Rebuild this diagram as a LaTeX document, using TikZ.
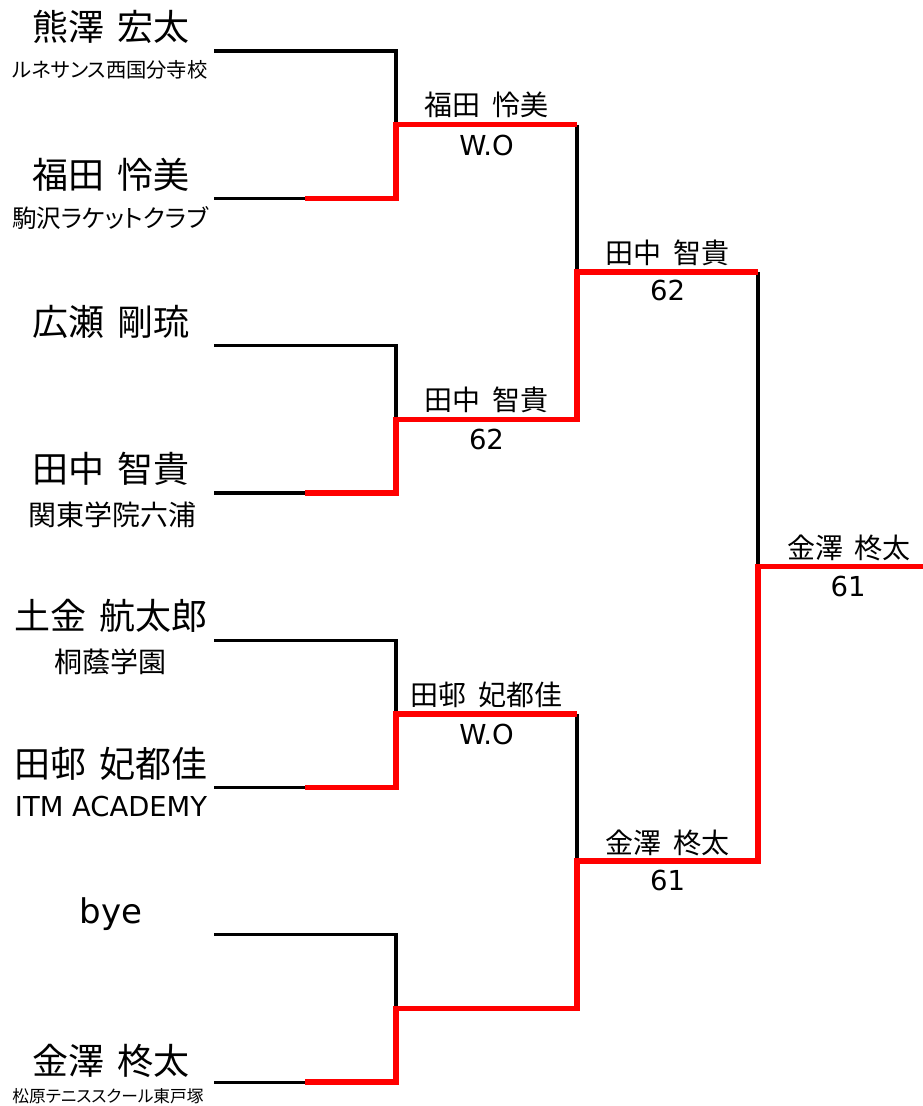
\documentclass[tikz,border=0pt]{standalone}
\usepackage{fontspec}
\setmainfont{Noto Sans CJK JP}
\newfontfamily\pf[RawFeature=+palt]{Noto Sans CJK JP}
\newfontfamily\lat{DejaVu Sans}
\newcommand{\gp}{\hspace{0.36em}}
\newcommand{\gq}{\hspace{0.4em}}
\tikzset{
  blk/.style={line width=3.2pt, draw=black},
  win/.style={line width=5.5pt, draw=red},
  txt/.style={inner sep=0pt, outer sep=0pt, text=black},
  pname/.style={txt, font=\fontsize{36}{42}\selectfont},
  rlbl/.style={txt, font=\fontsize{28}{32}\selectfont},
  rscore/.style={txt, font=\lat\fontsize{27.5}{32}\selectfont},
}
\begin{document}
\begin{tikzpicture}[x=1pt,y=-1pt]
\useasboundingbox (0,0) rectangle (923,1106);
% entry coordinates
\foreach \i in {0,...,7} {
  \pgfmathsetmacro\yy{51+147.3*\i}
  \coordinate (s\i) at (214,\yy);
  \coordinate (h\i) at (305,\yy);
  \coordinate (v\i) at (396,\yy);
}
% round 2
\coordinate (p0) at (396,124.65); \coordinate (r0) at (577,124.65);
\coordinate (p1) at (396,419.25); \coordinate (r1) at (577,419.25);
\coordinate (p2) at (396,713.85); \coordinate (r2) at (577,713.85);
\coordinate (p3) at (396,1008.45); \coordinate (r3) at (577,1008.45);
% round 3
\coordinate (t0) at (577,271.95); \coordinate (u0) at (758,271.95);
\coordinate (t1) at (577,861.15); \coordinate (u1) at (758,861.15);
% final
\coordinate (w) at (758,566.55); \coordinate (z) at (923,566.55);

% black lines
\draw[blk] (s0) -- (v0) -- (p0);
\draw[blk] (s1) -- (h1);
\draw[blk] (s2) -- (v2) -- (p1);
\draw[blk] (s3) -- (h3);
\draw[blk] (s4) -- (v4) -- (p2);
\draw[blk] (s5) -- (h5);
\draw[blk] (s6) -- (v6) -- (p3);
\draw[blk] (s7) -- (h7);
\draw[blk] (r0) -- (t0);
\draw[blk] (r2) -- (t1);
\draw[blk] (u0) -- (w);

% winner paths
\draw[win] (h1) -- (v1) -- (p0) -- (r0);
\draw[win] (h3) -- (v3) -- (p1) -- (r1) -- (t0) -- (u0);
\draw[win] (h5) -- (v5) -- (p2) -- (r2);
\draw[win] (h7) -- (v7) -- (p3) -- (r3) -- (t1) -- (u1) -- (w) -- (z);

% players
\node[pname] (n0) at (111,27) {熊澤\gp 宏太};
\node[txt, font=\pf\fontsize{20.3}{24}\selectfont] (c0) at (110,70) {ルネサンス西国分寺校};
\node[pname] (n1) at (111,175) {福田\gp 怜美};
\node[txt, font=\pf\fontsize{24.5}{28}\selectfont] (c1) at (110,218) {駒沢ラケットクラブ};
\node[pname] (n2) at (111,322) {広瀬\gp 剛琉};
\node[pname] (n3) at (111,469) {田中\gp 智貴};
\node[txt, font=\fontsize{28}{32}\selectfont] (c3) at (112,515) {関東学院六浦};
\node[pname] (n4) at (111,616) {土金\gp 航太郎};
\node[txt, font=\fontsize{28}{32}\selectfont] (c4) at (110,662) {桐蔭学園};
\node[pname] (n5) at (111,764) {田邨\gp 妃都佳};
\node[txt, font=\lat\fontsize{27.4}{32}\selectfont] (c5) at (111,807) {ITM ACADEMY};
\node[txt, font=\lat\fontsize{34}{38}\selectfont, anchor=base] (n6) at (111,923) {bye};
\node[pname] (n7) at (111,1061) {金澤\gp 柊太};
\node[txt, font=\pf\fontsize{16.7}{20}\selectfont] (c7) at (108,1096) {松原テニススクール東戸塚};

% round 2 results
\node[rlbl] (l0) at (486.5,105) {福田\gq 怜美};
\node[rscore] (k0) at (486.5,145) {W.O};
\node[rlbl] (l1) at (486.5,400) {田中\gq 智貴};
\node[rscore] (k1) at (486.5,439) {62};
\node[rlbl] (l2) at (486.5,695) {田邨\gq 妃都佳};
\node[rscore] (k2) at (486.5,734) {W.O};
% round 3 results
\node[rlbl] (l3) at (667.5,253) {田中\gq 智貴};
\node[rscore] (k3) at (667.5,290) {62};
\node[rlbl] (l4) at (667.5,843) {金澤\gq 柊太};
\node[rscore] (k4) at (667.5,880) {61};
% final
\node[rlbl] (l5) at (849,548) {金澤\gq 柊太};
\node[rscore] (k5) at (848,586) {61};
\end{tikzpicture}
\end{document}
